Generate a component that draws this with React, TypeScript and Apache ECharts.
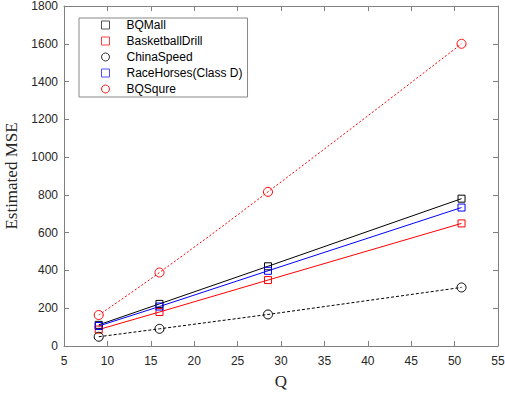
import React, { useEffect, useRef } from "react";
import * as echarts from "echarts";

const qValues = [9, 16, 28.5, 50.8];
const bqMall = [112, 223, 422, 780];
const basketballDrill = [87, 180, 349, 649];
const chinaSpeed = [49, 91, 167, 310];
const raceHorses = [106, 209, 398, 733];
const bqSqure = [164, 389, 816, 1600];

const seriesNames = ["BQMall", "BasketballDrill", "ChinaSpeed", "RaceHorses(Class D)", "BQSqure"];

const AXIS_COLOR = "#808080";
const LABEL_COLOR = "#262626";

export default function App() {
  const ref = useRef<HTMLDivElement>(null);
  useEffect(() => {
    if (!ref.current) return;
    const chart = echarts.init(ref.current, null, { renderer: "svg" });
    const pts = (arr: number[]) => qValues.map((q, i) => [q, arr[i]]);
    const mk = (
      name: string,
      arr: number[],
      color: string,
      symbol: string,
      size: number,
      type: any,
      smooth = false
    ) => ({
      name,
      type: "line",
      data: pts(arr),
      symbol,
      symbolSize: size,
      smooth,
      showSymbol: true,
      itemStyle: { color: "transparent", borderColor: color, borderWidth: 1 },
      lineStyle: { color, width: 1, type },
      emphasis: { disabled: true },
      z: 3,
    });
    const legendItem = (name: string, icon: string, color: string) => ({
      name,
      icon,
      itemStyle: { color: "transparent", borderColor: color, borderWidth: 1 },
    });
    const axisCommon = {
      axisLine: { show: true, onZero: false, lineStyle: { color: AXIS_COLOR, width: 1 } },
      axisTick: { show: true, inside: true, length: 5, lineStyle: { color: AXIS_COLOR } },
      splitLine: { show: false },
    };
    const plain = (v: number) => String(v);
    chart.setOption({
      animation: false,
      backgroundColor: "#fff",
      grid: { left: 64, right: 7, top: 6, bottom: 50, containLabel: false, outerBoundsMode: "none" },
      legend: {
        orient: "vertical",
        left: 79,
        top: 18,
        padding: [1, 5, 2, 22],
        itemGap: 4,
        itemWidth: 8,
        itemHeight: 8,
        borderColor: "#888",
        borderWidth: 1,
        backgroundColor: "#fff",
        textStyle: {
          fontFamily: "Liberation Sans, Arial",
          fontSize: 12,
          color: "#000",
          lineHeight: 12,
          padding: [0, 0, 0, 12],
        },
        data: [
          legendItem(seriesNames[0], "rect", "#555"),
          legendItem(seriesNames[1], "rect", "#ff4040"),
          legendItem(seriesNames[2], "circle", "#333"),
          legendItem(seriesNames[3], "rect", "#5050ff"),
          legendItem(seriesNames[4], "circle", "#ff2020"),
        ],
      },
      xAxis: [
        {
          type: "value",
          min: 5,
          max: 55,
          interval: 5,
          position: "bottom",
          name: "Q",
          nameLocation: "middle",
          nameGap: 27,
          nameTextStyle: { fontFamily: "Liberation Serif, Times New Roman", fontSize: 17, color: LABEL_COLOR },
          axisLabel: { fontFamily: "Liberation Sans, Arial", fontSize: 12, color: LABEL_COLOR, margin: 9, formatter: plain },
          ...axisCommon,
        },
        {
          type: "value",
          min: 5,
          max: 55,
          interval: 5,
          position: "top",
          axisLabel: { show: false },
          ...axisCommon,
        },
      ],
      yAxis: [
        {
          type: "value",
          min: 0,
          max: 1800,
          interval: 200,
          position: "left",
          name: "Estimated MSE",
          nameLocation: "middle",
          nameGap: 38,
          nameTextStyle: { fontFamily: "Liberation Serif, Times New Roman", fontSize: 17, color: LABEL_COLOR },
          axisLabel: { fontFamily: "Liberation Sans, Arial", fontSize: 12, color: LABEL_COLOR, margin: 6, formatter: plain },
          ...axisCommon,
        },
        {
          type: "value",
          min: 0,
          max: 1800,
          interval: 200,
          position: "right",
          axisLabel: { show: false },
          ...axisCommon,
        },
      ],
      series: [
        mk(seriesNames[0], bqMall, "#000000", "rect", 7, "solid"),
        mk(seriesNames[1], basketballDrill, "#ff0000", "rect", 7, "solid"),
        mk(seriesNames[2], chinaSpeed, "#000000", "circle", 9, [3, 2]),
        mk(seriesNames[3], raceHorses, "#0000ff", "rect", 7, "solid"),
        mk(seriesNames[4], bqSqure, "#ff0000", "circle", 9, [2, 2], true),
      ],
    });
    return () => chart.dispose();
  }, []);
  return (
    <div
      ref={ref}
      style={{ position: "fixed", left: 0, top: 0, width: 505, height: 396 }}
    />
  );
}
